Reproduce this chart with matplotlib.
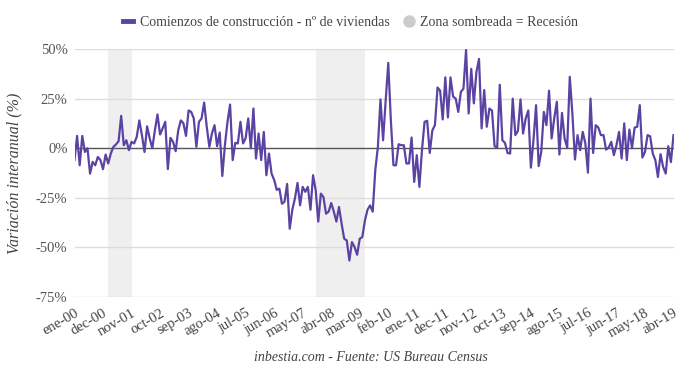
import matplotlib
matplotlib.use("Agg")
import matplotlib.pyplot as plt
from matplotlib.lines import Line2D
import numpy as np

# comienzos de construcción, variación interanual (%), ene-2000 .. abr-2019
var_2000 = [-6, 6.2, -8.6, 6.2, -1.9, 0, -12.8, -6.9, -8.6, -4.4, -6, -10.6]
var_2001 = [-3.2, -7.7, -2.7, 0.7, 1.9, 3.5, 16.3, 1.5, 4, -1, 3.2, 2.4]
var_2002 = [5.7, 14, 6.6, -1.9, 11, 4.9, 0, 9, 17, 6.9, 10, 13.3]
var_2003 = [-10.5, 5.2, 3.2, -1.5, 9, 14, 12.6, 6.2, 19, 18.3, 15, 0.7]
var_2004 = [13.3, 15, 23, 10.8, 0.7, 7.5, 11.6, 1, 7.9, -14, 1.5, 13.3]
var_2005 = [22, -6, 2.7, 2.4, 13.3, 2.4, 5, 15, 0, 20, -5.2, 7.4]
var_2006 = [-6, 8.2, -13.6, -2.7, -12.8, -16, -21, -20.4, -28, -27, -18, -40.6]
var_2007 = [-31, -25.4, -17.5, -28.8, -19.5, -22, -19.5, -31, -13.6, -21, -37, -22.9]
var_2008 = [-24.6, -33, -32, -27.6, -32, -37, -29.6, -38, -45.6, -46.5, -56.6, -47.3]
var_2009 = [-49.8, -53.7, -45.6, -44.8, -36.4, -31, -28.8, -32, -11, 0.7, 24.6, 4]
var_2010 = [24, 43, 14, -8.6, -8.6, 2, 1.5, 1.5, -7.7, -7.7, 5.4, -17]
var_2011 = [-3.5, -19.5, -1, 13.3, 13.8, -2.4, 9, 11.6, 30.6, 29, 14.5, 35.7]
var_2012 = [15.5, 35.7, 26, 25, 18.3, 28.4, 30, 49.5, 17.5, 40, 22.6, 38.5]
var_2013 = [45, 10, 29.3, 10.8, 20, 19, 1, 0.3, 32, 4, 2.7, -2.4]
var_2014 = [-2.7, 25, 6.6, 8.7, 24.6, 7.4, 15, 19, -9.8, 4, 21.7, -9]
var_2015 = [-1.8, 18.3, 11.6, 29, 4.9, 15, 23.4, -3.2, 17.8, 4.9, 0.3, 36]
var_2016 = [17.5, -5.7, 6.6, -1, 8.2, 2.4, -12.3, 25, -2.4, 11.6, 10.4, 6.6]
var_2017 = [6.6, -0.7, 0.3, 3.2, -3.5, 1.5, 8.2, -5.2, 12.5, -6, 9.4, 0]
var_2018 = [10.4, 10.8, 21.7, -4.7, -1.9, 6.6, 6, -2.7, -6, -14.5, -3, -9.4]
var_2019 = [-12.8, 1, -7, 6.6]

meses = ["ene", "feb", "mar", "abr", "may", "jun",
         "jul", "ago", "sep", "oct", "nov", "dec"]
anio_inicio = 2000

# recesiones (índice de mes inicial y final)
recesiones = [(13, 22), (93, 112)]

y_ticks = [50, 25, 0, -25, -50, -75]

serie = (var_2000 + var_2001 + var_2002 + var_2003 + var_2004 + var_2005 +
         var_2006 + var_2007 + var_2008 + var_2009 + var_2010 + var_2011 +
         var_2012 + var_2013 + var_2014 + var_2015 + var_2016 + var_2017 +
         var_2018 + var_2019)
n = len(serie)
etiquetas = ["%s-%02d" % (meses[i % 12], (anio_inicio + i // 12) % 100) for i in range(n)]

plt.rcParams['font.family'] = ['Liberation Serif', 'DejaVu Serif']

MORADO = "#5a43a3"
GRIS_TXT = "#444444"

fig = plt.figure(figsize=(6.8, 3.72), dpi=100)
ax = fig.add_axes([74.5 / 680, 1 - 297 / 372, 599 / 680, 248 / 372])

for a, b in recesiones:
    ax.axvspan(a, b, color="#efefef", zorder=0, lw=0)

for v in y_ticks:
    if v == 0:
        ax.axhline(v, color="#555555", lw=1.0, zorder=1)
    else:
        ax.axhline(v, color="#dddddd", lw=1.0, zorder=1)

x = np.arange(n)
ax.plot(x, serie, color=MORADO, lw=1.6, zorder=3)

ax.set_xlim(0, n - 1)
ax.set_ylim(-75, 50)
ax.set_yticks(y_ticks)
ax.set_yticklabels(["%d%%" % v for v in y_ticks], fontsize=10.5, color="#555555")
pos = list(range(0, n, 11))
ax.set_xticks(pos)
ax.set_xticklabels([etiquetas[i] for i in pos], rotation=30, ha="right",
                   rotation_mode="anchor", fontsize=10.5, color=GRIS_TXT)
ax.tick_params(axis="x", length=0, pad=7)
ax.tick_params(axis="y", length=0, pad=5)
for s in ax.spines.values():
    s.set_visible(False)

ax.set_ylabel("Variación interanual (%)", fontsize=11.5, style="italic",
              color=GRIS_TXT, labelpad=10)

handles = [
    Line2D([0], [0], color=MORADO, lw=3.5),
    Line2D([0], [0], marker="o", color="none", markerfacecolor="#cccccc",
           markeredgecolor="#cccccc", markersize=8),
]
fig.legend(handles, ["Comienzos de construcción - nº de viviendas",
                     "Zona sombreada = Recesión"],
           loc="center", bbox_to_anchor=(0.516, 0.94), ncol=2, frameon=False,
           handlelength=0.7, handletextpad=0.5, columnspacing=1.0,
           prop={"size": 10}, labelcolor=GRIS_TXT)

fig.text(0.546, 0.04, "inbestia.com - Fuente: US Bureau Census",
         ha="center", va="center", fontsize=10, style="italic", color=GRIS_TXT)

fig.savefig("out.png", dpi=100)
